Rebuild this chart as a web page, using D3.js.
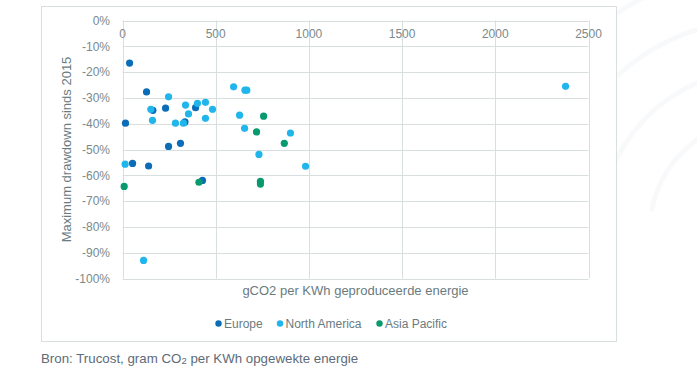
<!DOCTYPE html>
<html>
<head>
<meta charset="utf-8">
<script src="https://cdn.jsdelivr.net/npm/d3@7"></script>
<style>
  body { margin: 0; background: #fff; }
  text { font-family: "Liberation Sans", Arial, sans-serif; }
</style>
</head>
<body>
<svg id="chart" width="697" height="385"></svg>
<script>
// gCO2 per KWh, max drawdown (%)
const europe = [
    [38, -16.5], [129, -27.7], [163, -34.8], [231, -34.0], [16, -39.8], [335, -39.3],
    [392, -33.8], [247, -48.8], [311, -47.6], [54, -55.4], [140, -56.4], [429, -62.0]
];
const northAmerica = [
    [247, -29.6], [152, -34.4], [161, -38.7], [284, -39.8], [327, -39.8], [338, -32.8],
    [354, -36.2], [402, -32.1], [445, -31.7], [445, -37.9], [483, -34.4], [596, -25.7],
    [657, -27.0], [667, -27.0], [628, -36.7], [655, -41.8], [901, -43.6], [732, -51.9],
    [14, -55.7], [982, -56.5], [113, -93.0], [2377, -25.5]
];
const asiaPacific = [
    [757, -37.1], [719, -43.2], [868, -47.6], [9, -64.3], [410, -62.7], [740, -62.3], [740, -63.4]
];
const xTicks = [0, 500, 1000, 1500, 2000, 2500];
const yTicks = [0, -10, -20, -30, -40, -50, -60, -70, -80, -90, -100];

const series = [
    {name: 'Europe', color: '#0b6db7', data: europe},
    {name: 'North America', color: '#20b6ec', data: northAmerica},
    {name: 'Asia Pacific', color: '#079a6f', data: asiaPacific}
];

const svg = d3.select('#chart');
const gridColor = '#d9dfdf',
    tickColor = '#7a8a8c',
    titleColor = '#6a7b80';

// faint decorative arcs on the right
const deco = svg.append('g').attr('fill', 'none').attr('stroke', '#f8f9fb').attr('stroke-width', 5);
[60, 110, 160, 210, 260].forEach(r => {
    deco.append('path')
        .attr('d', d3.arc()({innerRadius: r, outerRadius: r, startAngle: -1.4, endAngle: 0.2}))
        .attr('transform', 'translate(760,230)');
});

svg.append('rect')
    .attr('x', 41.5).attr('y', 6.5)
    .attr('width', 575).attr('height', 335)
    .attr('fill', '#fff')
    .attr('stroke', gridColor);

const x = d3.scaleLinear().domain([0, 2500]).range([122.5, 588.5]);
const y = d3.scaleLinear().domain([0, -100]).range([20.5, 278.5]);

const grid = svg.append('g').attr('stroke', gridColor).attr('stroke-width', 1);
grid.selectAll('.hl').data(yTicks).enter().append('line')
    .attr('x1', x(0)).attr('x2', x(2500))
    .attr('y1', d => Math.round(y(d)) + 0.5).attr('y2', d => Math.round(y(d)) + 0.5);
grid.selectAll('.vl').data(xTicks).enter().append('line')
    .attr('y1', y(0)).attr('y2', y(-100))
    .attr('x1', d => Math.round(x(d)) + 0.5).attr('x2', d => Math.round(x(d)) + 0.5);

svg.append('g').selectAll('text').data(yTicks).enter().append('text')
    .attr('x', 110).attr('y', d => y(d))
    .attr('dy', '0.35em')
    .attr('text-anchor', 'end')
    .attr('font-size', 12)
    .attr('fill', tickColor)
    .text(d => d + '%');

svg.append('g').selectAll('text').data(xTicks).enter().append('text')
    .attr('x', d => x(d)).attr('y', 38)
    .attr('text-anchor', 'middle')
    .attr('font-size', 12)
    .attr('fill', tickColor)
    .text(d => d);

series.forEach(s => {
    svg.append('g').selectAll('circle').data(s.data).enter().append('circle')
        .attr('cx', d => x(d[0]))
        .attr('cy', d => y(d[1]))
        .attr('r', 3.6)
        .attr('fill', s.color);
});

svg.append('text')
    .attr('x', (x(0) + x(2500)) / 2).attr('y', 295)
    .attr('text-anchor', 'middle')
    .attr('font-size', 13)
    .attr('fill', titleColor)
    .text('gCO2 per KWh geproduceerde energie');

svg.append('text')
    .attr('transform', 'translate(71,' + (y(0) + y(-100)) / 2 + ') rotate(-90)')
    .attr('text-anchor', 'middle')
    .attr('font-size', 13)
    .attr('fill', titleColor)
    .text('Maximum drawdown sinds 2015');

// legend
const legendX = [218.5, 280, 379.5];
const legend = svg.append('g').selectAll('g').data(series).enter().append('g')
    .attr('transform', (d, i) => 'translate(' + legendX[i] + ',323.5)');
legend.append('circle').attr('r', 3.2).attr('fill', d => d.color);
legend.append('text')
    .attr('x', 5.5).attr('dy', '0.35em')
    .attr('font-size', 12)
    .attr('fill', titleColor)
    .text(d => d.name);

const src = svg.append('text')
    .attr('x', 41).attr('y', 363)
    .attr('font-size', 13.3)
    .attr('fill', '#5d6b78');
src.append('tspan').text('Bron: Trucost, gram CO');
src.append('tspan').attr('font-size', 9.5).attr('dy', 1).text('2');
src.append('tspan').attr('dy', -1).text(' per KWh opgewekte energie');
</script>
</body>
</html>
